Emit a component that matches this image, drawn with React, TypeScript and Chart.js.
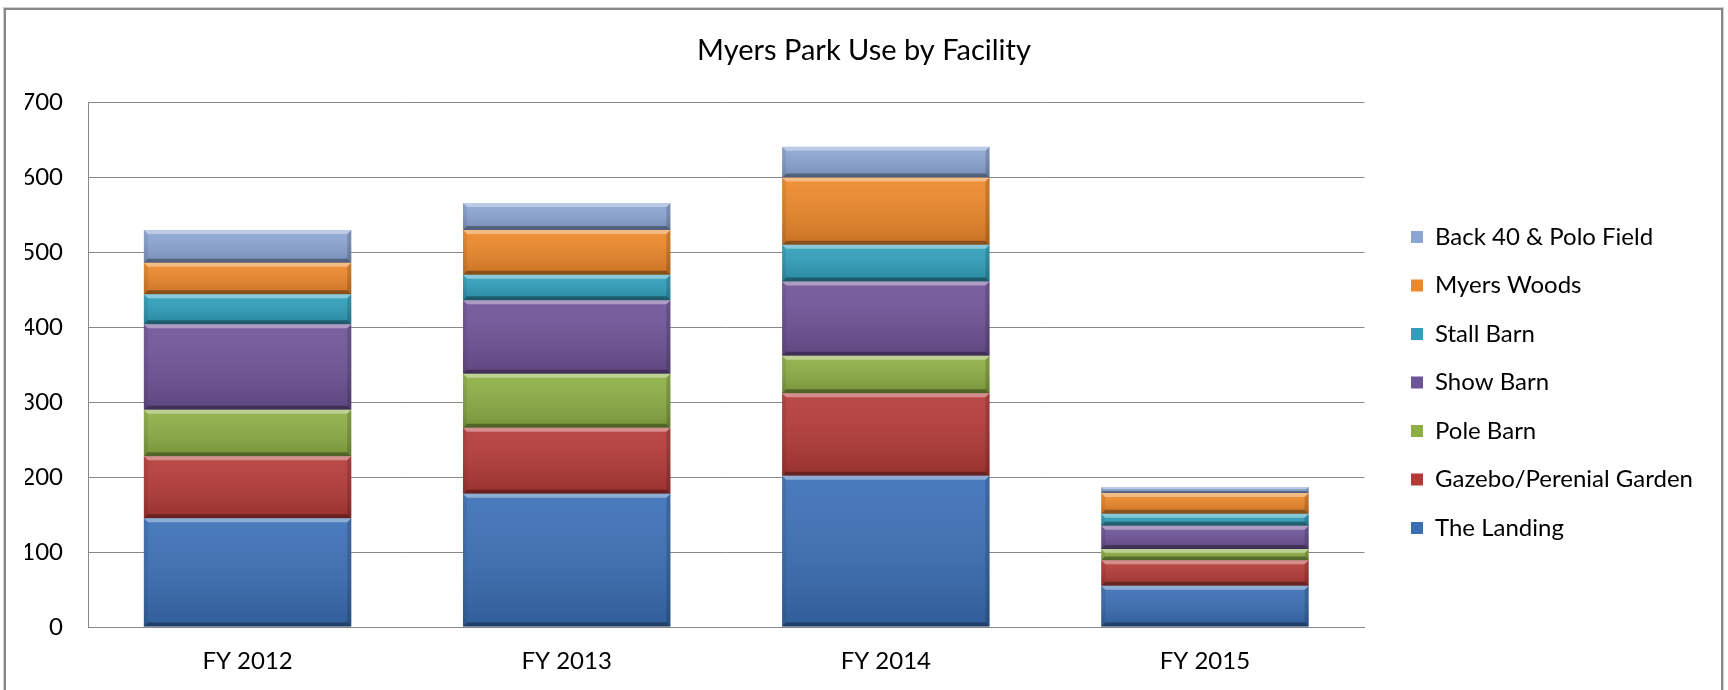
import React, { useEffect, useRef } from "react";
import { Chart, registerables } from "chart.js";

Chart.register(...registerables);

// ---- data ----
const categories = ["FY 2012", "FY 2013", "FY 2014", "FY 2015"];
const seriesNames = [
  "The Landing",
  "Gazebo/Perenial Garden",
  "Pole Barn",
  "Show Barn",
  "Stall Barn",
  "Myers Woods",
  "Back 40 & Polo Field",
];
const theLanding = [145, 178, 202, 55];
const gazeboGarden = [83, 88, 110, 34];
const poleBarn = [62, 72, 50, 15];
const showBarn = [114, 98, 99, 31];
const stallBarn = [40, 34, 49, 16];
const myersWoods = [42, 60, 90, 28];
const back40Polo = [44, 36, 41, 8];
const seriesValues = [theLanding, gazeboGarden, poleBarn, showBarn, stallBarn, myersWoods, back40Polo];
const seriesColors = ["#3A6FB6", "#B53A37", "#8DAF44", "#6F5398", "#2FA0BC", "#EE8829", "#8CA6D4"];
const yMin = 0;
const yMax = 700;
const yStep = 100;
const titleText = "Myers Park Use by Facility";

const FONT = "Lato";

const framePlugin = {
  id: "frame",
  beforeDraw(chart: any) {
    const ctx = chart.ctx;
    ctx.save();
    ctx.fillStyle = "#ffffff";
    ctx.fillRect(0, 0, chart.width, chart.height);
    ctx.strokeStyle = "#cfcfcf";
    ctx.lineWidth = 1;
    ctx.strokeRect(3.5, 7.5, 1720, 700);
    ctx.strokeStyle = "#878787";
    ctx.lineWidth = 2;
    ctx.strokeRect(5, 9, 1717, 700);
    ctx.restore();
  },
};

const bevelPlugin = {
  id: "bevel",
  afterDatasetsDraw(chart: any) {
    const ctx = chart.ctx;
    ctx.save();
    chart.data.datasets.forEach((_ds: any, di: number) => {
      const meta = chart.getDatasetMeta(di);
      if (meta.hidden) return;
      meta.data.forEach((el: any) => {
        const { x, y, base, width } = el.getProps(["x", "y", "base", "width"], true);
        const left = x - width / 2;
        const right = x + width / 2;
        const top = Math.min(y, base);
        const bottom = Math.max(y, base);
        const h = bottom - top;
        if (h <= 0) return;
        const b = Math.min(4, h / 3);
        const g = ctx.createLinearGradient(0, top, 0, bottom);
        g.addColorStop(0, "rgba(255,255,255,0.08)");
        g.addColorStop(1, "rgba(0,0,0,0.16)");
        ctx.fillStyle = g;
        ctx.fillRect(left, top, width, h);
        // top bevel
        ctx.beginPath();
        ctx.moveTo(left, top);
        ctx.lineTo(right, top);
        ctx.lineTo(right - b, top + b);
        ctx.lineTo(left + b, top + b);
        ctx.closePath();
        ctx.fillStyle = "rgba(255,255,255,0.38)";
        ctx.fill();
        // bottom bevel
        ctx.beginPath();
        ctx.moveTo(left, bottom);
        ctx.lineTo(right, bottom);
        ctx.lineTo(right - b, bottom - b);
        ctx.lineTo(left + b, bottom - b);
        ctx.closePath();
        ctx.fillStyle = "rgba(0,0,0,0.32)";
        ctx.fill();
        // left bevel
        ctx.beginPath();
        ctx.moveTo(left, top);
        ctx.lineTo(left + b, top + b);
        ctx.lineTo(left + b, bottom - b);
        ctx.lineTo(left, bottom);
        ctx.closePath();
        ctx.fillStyle = "rgba(0,0,0,0.07)";
        ctx.fill();
        // right bevel
        ctx.beginPath();
        ctx.moveTo(right, top);
        ctx.lineTo(right - b, top + b);
        ctx.lineTo(right - b, bottom - b);
        ctx.lineTo(right, bottom);
        ctx.closePath();
        ctx.fillStyle = "rgba(0,0,0,0.16)";
        ctx.fill();
      });
    });
    ctx.restore();
  },
};

export default function App() {
  const canvasRef = useRef<HTMLCanvasElement | null>(null);

  useEffect(() => {
    let chart: Chart | null = null;
    let cancelled = false;
    const make = () => {
      if (cancelled || !canvasRef.current) return;
      chart = new Chart(canvasRef.current, {
        type: "bar",
        data: {
          labels: categories,
          datasets: seriesNames.map((name, i) => ({
            label: name,
            data: seriesValues[i],
            backgroundColor: seriesColors[i],
            borderWidth: 0,
            categoryPercentage: 0.65,
            barPercentage: 1,
          })),
        },
        options: {
          responsive: false,
          animation: false,
          devicePixelRatio: 1,
          layout: { padding: { left: 25, right: 25, top: 0, bottom: 10 } },
          plugins: {
            title: {
              display: true,
              text: titleText,
              color: "#000",
              font: { family: FONT, size: 29, weight: "normal" },
              padding: { top: 33.6, bottom: 34.1 },
            },
            legend: {
              position: "right",
              align: "start",
              reverse: true,
              maxWidth: 420,
              title: {
                display: true,
                text: "",
                font: { family: FONT, size: 12 },
                padding: { top: 186, bottom: 0 },
              },
              labels: {
                color: "#000",
                font: { family: FONT, size: 24 },
                boxWidth: 12,
                boxHeight: 12,
                padding: 24.5,
              },
            },
            tooltip: { enabled: false },
          },
          scales: {
            x: {
              stacked: true,
              grid: { display: false, drawTicks: false },
              border: { display: true, color: "#888", width: 1 },
              ticks: { color: "#000", font: { family: FONT, size: 24 }, padding: 20 },
              afterFit: (s: any) => {
                s.height = 53;
              },
            },
            y: {
              stacked: true,
              min: yMin,
              max: yMax,
              ticks: {
                stepSize: yStep,
                color: "#000",
                font: { family: FONT, size: 24 },
                padding: 25,
              },
              grid: { color: "#888", lineWidth: 1, drawTicks: false },
              border: { display: true, color: "#888", width: 1 },
              afterFit: (s: any) => {
                s.width = 63;
              },
            },
            gap: {
              type: "linear",
              axis: "y",
              position: "right",
              display: true,
              grid: { display: false, drawTicks: false },
              border: { display: false },
              ticks: { display: false },
              afterFit: (s: any) => {
                s.width = 22;
              },
            },
          },
        } as any,
        plugins: [framePlugin, bevelPlugin],
      });
    };
    const fontsReady = (document as any).fonts
      ? Promise.all([
          (document as any).fonts.load(`24px ${FONT}`),
          (document as any).fonts.load(`29px ${FONT}`),
        ]).catch(() => null)
      : Promise.resolve(null);
    fontsReady.then(make);
    return () => {
      cancelled = true;
      if (chart) chart.destroy();
    };
  }, []);

  return (
    <div style={{ position: "absolute", left: 0, top: 0, width: 1728, height: 690, background: "#fff" }}>
      <canvas ref={canvasRef} width={1728} height={690} style={{ display: "block" }} />
    </div>
  );
}
